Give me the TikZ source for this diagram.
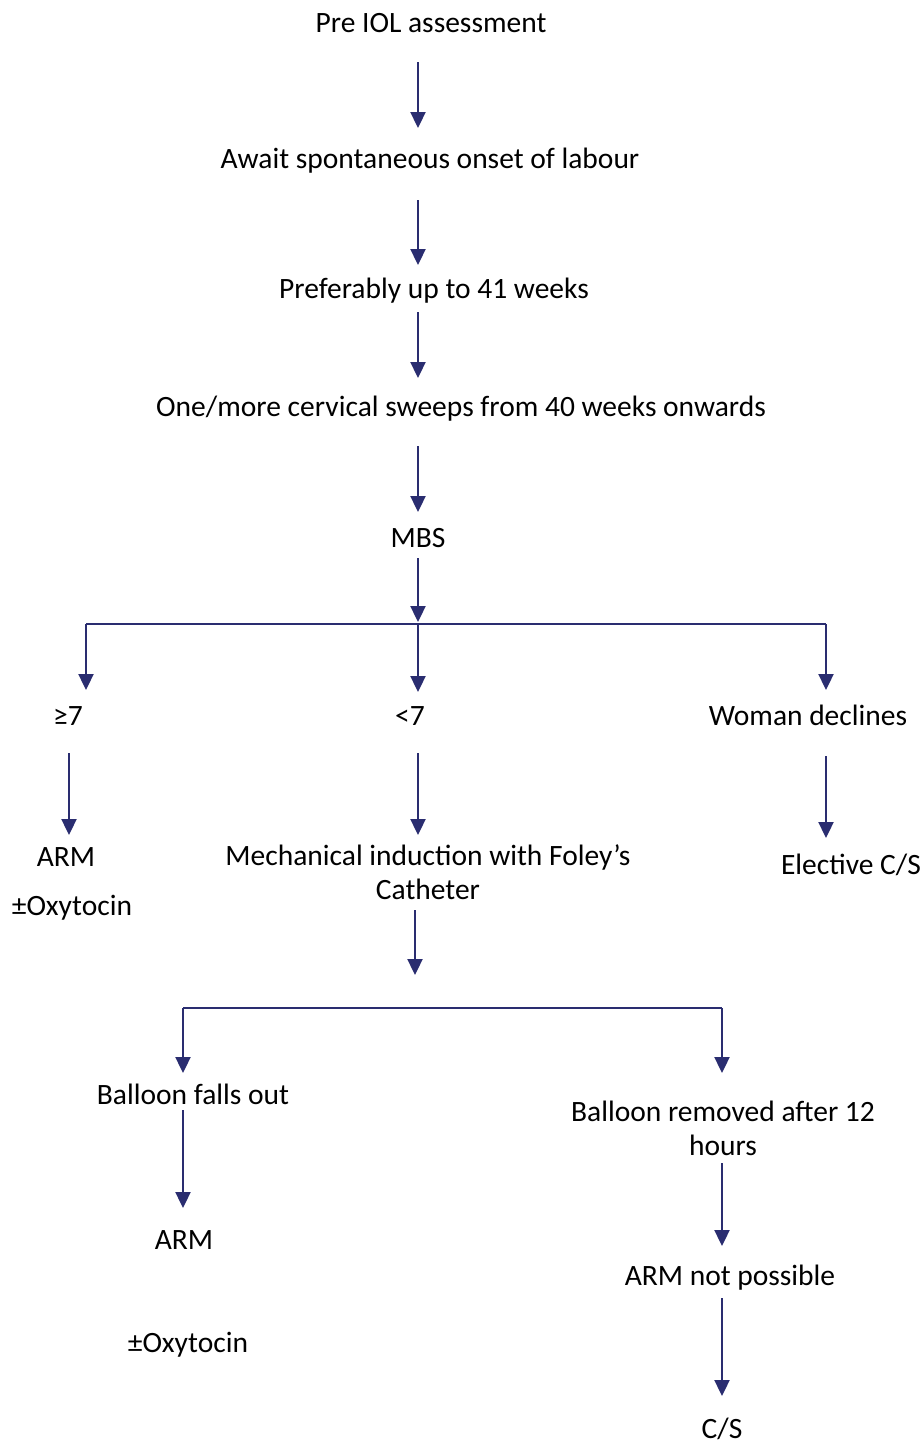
\documentclass[tikz,border=0pt]{standalone}
\usepackage{fontspec}
\setmainfont{Carlito}
\usetikzlibrary{arrows.meta}
\definecolor{navy}{RGB}{42,45,112}
\tikzset{
  txt/.style={inner sep=0pt, outer sep=0pt, font=\fontsize{29.5}{34}\selectfont, text=black},
  arr/.style={draw=navy, line width=2.3pt, -{Triangle[width=15pt,length=16pt]}},
  bus/.style={draw=navy, line width=2.3pt}
}
\begin{document}
\begin{tikzpicture}[x=1pt,y=-1pt]
\useasboundingbox (0,0) rectangle (923,1444);

% main column
\node[txt,anchor=base] (pre)   at (431,32)  {Pre IOL assessment};
\node[txt,anchor=base] (await) at (430,168) {Await spontaneous onset of labour};
\node[txt,anchor=base] (pref)  at (434,298) {Preferably up to 41 weeks};
\node[txt,anchor=base] (sweep) at (461,416) {One/more cervical sweeps from 40 weeks onwards};
\node[txt,anchor=base] (mbs)   at (418,547) {MBS};

% score branches
\node[txt,anchor=base] (ge)  at (68,725)  {≥7};
\node[txt,anchor=base] (lt)  at (410,725) {<7};
\node[txt,anchor=base] (dec) at (808,725) {Woman declines};

\node[txt,anchor=base] (arm1) at (66,866)  {ARM};
\node[txt,anchor=base] (oxy1) at (72,915)  {±Oxytocin};
\node[txt,align=center,anchor=center] (foley) at (428,872) {Mechanical induction with Foley’s\\Catheter};
\node[txt,anchor=base] (ecs) at (851,874) {Elective C/S};

% balloon branches
\node[txt,anchor=base] (fall) at (193,1104) {Balloon falls out};
\node[txt,align=center,anchor=center] (rem) at (723,1128) {Balloon removed after 12\\hours};
\node[txt,anchor=base] (arm2) at (184,1249) {ARM};
\node[txt,anchor=base] (oxy2) at (188,1352) {±Oxytocin};
\node[txt,anchor=base] (nop)  at (730,1285) {ARM not possible};
\node[txt,anchor=base] (cs)   at (722,1438) {C/S};

% connector end points
\coordinate (a1s) at (418,62);   \coordinate (a1e) at (418,128);
\coordinate (a2s) at (418,200);  \coordinate (a2e) at (418,265);
\coordinate (a3s) at (418,312);  \coordinate (a3e) at (418,378);
\coordinate (a4s) at (418,446);  \coordinate (a4e) at (418,512);
\coordinate (a5s) at (418,558);  \coordinate (a5e) at (418,622);
\coordinate (bl)  at (86,624);   \coordinate (bm) at (418,624);  \coordinate (br) at (826,624);
\coordinate (bld) at (86,690);   \coordinate (bmd) at (418,692); \coordinate (brd) at (826,690);
\coordinate (a6s) at (69,753);   \coordinate (a6e) at (69,835);
\coordinate (a7s) at (418,753);  \coordinate (a7e) at (418,835);
\coordinate (a8s) at (826,756);  \coordinate (a8e) at (826,838);
\coordinate (a9s) at (415,910);  \coordinate (a9e) at (415,975);
\coordinate (cl)  at (183,1008); \coordinate (cr) at (722,1008);
\coordinate (cld) at (183,1073); \coordinate (crd) at (722,1073);
\coordinate (a10s) at (183,1110); \coordinate (a10e) at (183,1208);
\coordinate (a11s) at (722,1163); \coordinate (a11e) at (722,1246);
\coordinate (a12s) at (722,1298); \coordinate (a12e) at (722,1396);

% main column arrows
\draw[arr] (a1s) -- (a1e);
\draw[arr] (a2s) -- (a2e);
\draw[arr] (a3s) -- (a3e);
\draw[arr] (a4s) -- (a4e);
\draw[arr] (a5s) -- (a5e);

% first split
\draw[bus] (bl) -- (br);
\draw[arr] (bl) -- (bld);
\draw[arr] (bm) -- (bmd);
\draw[arr] (br) -- (brd);
\draw[arr] (a6s) -- (a6e);
\draw[arr] (a7s) -- (a7e);
\draw[arr] (a8s) -- (a8e);
\draw[arr] (a9s) -- (a9e);

% second split
\draw[bus] (cl) -- (cr);
\draw[arr] (cl) -- (cld);
\draw[arr] (cr) -- (crd);
\draw[arr] (a10s) -- (a10e);
\draw[arr] (a11s) -- (a11e);
\draw[arr] (a12s) -- (a12e);
\end{tikzpicture}
\end{document}
